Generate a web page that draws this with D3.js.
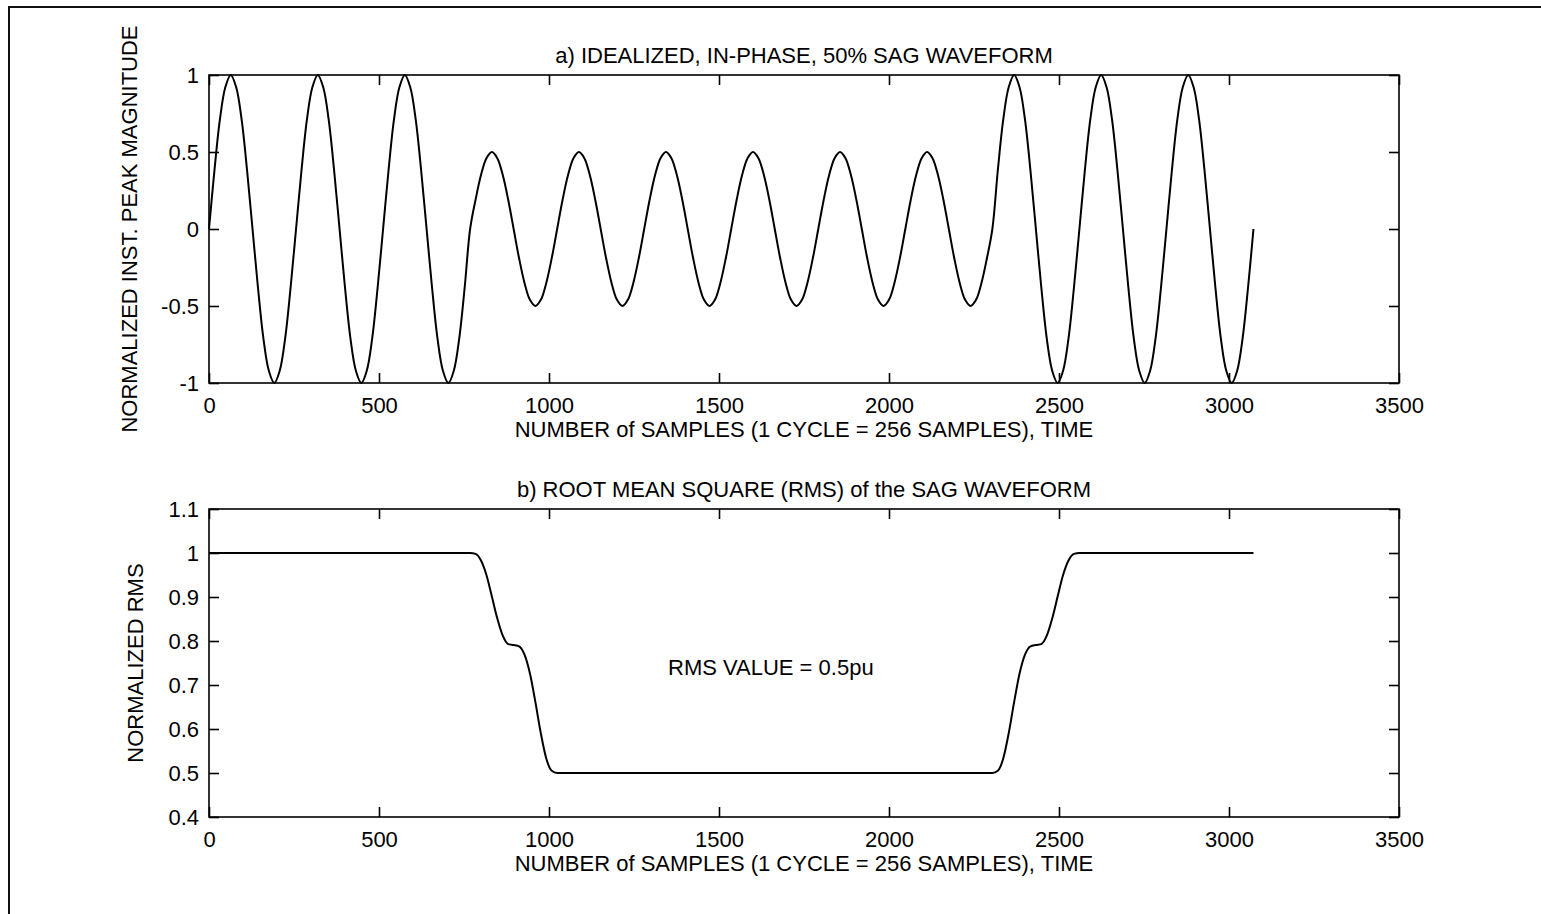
<!DOCTYPE html>
<html>
<head>
<meta charset="utf-8">
<script src="https://cdn.jsdelivr.net/npm/d3@7"></script>
<style>
  body { margin: 0; background: #fff; }
  text { font-family: "Liberation Sans", Arial, sans-serif; font-size: 22px; fill: #000; }
</style>
</head>
<body>
<svg></svg>
<script>
// tick values
var xTicks = [0, 500, 1000, 1500, 2000, 2500, 3000, 3500];
var waveTicks = [-1, -0.5, 0, 0.5, 1];
var rmsTicks = [0.4, 0.5, 0.6, 0.7, 0.8, 0.9, 1, 1.1];

// waveform read every 16 samples (1 cycle = 256 samples)
var waveStep = 16;
var waveValues = [
  0, 0.38, 0.71, 0.92, 1, 0.92, 0.71, 0.38, 0, -0.38, -0.71, -0.92, -1, -0.92, -0.71, -0.38,
  0, 0.38, 0.71, 0.92, 1, 0.92, 0.71, 0.38, 0, -0.38, -0.71, -0.92, -1, -0.92, -0.71, -0.38,
  0, 0.38, 0.71, 0.92, 1, 0.92, 0.71, 0.38, 0, -0.38, -0.71, -0.92, -1, -0.92, -0.71, -0.38,
  0, 0.19, 0.35, 0.46, 0.5, 0.46, 0.35, 0.19, 0, -0.19, -0.35, -0.46, -0.5, -0.46, -0.35, -0.19,
  0, 0.19, 0.35, 0.46, 0.5, 0.46, 0.35, 0.19, 0, -0.19, -0.35, -0.46, -0.5, -0.46, -0.35, -0.19,
  0, 0.19, 0.35, 0.46, 0.5, 0.46, 0.35, 0.19, 0, -0.19, -0.35, -0.46, -0.5, -0.46, -0.35, -0.19,
  0, 0.19, 0.35, 0.46, 0.5, 0.46, 0.35, 0.19, 0, -0.19, -0.35, -0.46, -0.5, -0.46, -0.35, -0.19,
  0, 0.19, 0.35, 0.46, 0.5, 0.46, 0.35, 0.19, 0, -0.19, -0.35, -0.46, -0.5, -0.46, -0.35, -0.19,
  0, 0.19, 0.35, 0.46, 0.5, 0.46, 0.35, 0.19, 0, -0.19, -0.35, -0.46, -0.5, -0.46, -0.35, -0.19,
  0, 0.38, 0.71, 0.92, 1, 0.92, 0.71, 0.38, 0, -0.38, -0.71, -0.92, -1, -0.92, -0.71, -0.38,
  0, 0.38, 0.71, 0.92, 1, 0.92, 0.71, 0.38, 0, -0.38, -0.71, -0.92, -1, -0.92, -0.71, -0.38,
  0, 0.38, 0.71, 0.92, 1, 0.92, 0.71, 0.38, 0, -0.38, -0.71, -0.92, -1, -0.92, -0.71, -0.38,
  0
];

// rms curve
var rmsSamples = [0, 768, 784, 800, 816, 832, 848, 864, 880, 896, 912, 928, 944, 960, 976, 992, 1008, 1024,
  2304, 2320, 2336, 2352, 2368, 2384, 2400, 2416, 2432, 2448, 2464, 2480, 2496, 2512, 2528, 2544, 2560, 3072];
var rmsValues = [1, 1, 0.998, 0.983, 0.95, 0.901, 0.851, 0.812, 0.793, 0.791, 0.788, 0.769, 0.726, 0.661, 0.59, 0.533, 0.505, 0.5,
  0.5, 0.505, 0.533, 0.59, 0.661, 0.726, 0.769, 0.788, 0.791, 0.793, 0.812, 0.851, 0.901, 0.95, 0.983, 0.998, 1, 1];

var W = 1541, H = 914;
var left = 209, width = 1190, plotH = 308;
var tick = 10;

var svg = d3.select("svg").attr("width", W).attr("height", H);

// figure frame
svg.append("path")
    .attr("d", "M9," + H + "V7H" + W)
    .attr("fill", "none")
    .attr("stroke", "#111")
    .attr("stroke-width", 2);

var x = d3.scaleLinear().domain([0, 3500]).range([0, width]);

function panel(top, y, yTicks, title, ylabel, ylabelX) {
  var g = svg.append("g").attr("transform", "translate(" + left + "," + top + ")");

  g.append("g")
      .attr("transform", "translate(0," + plotH + ")")
      .call(d3.axisBottom(x).tickValues(xTicks).tickSizeInner(-tick).tickSizeOuter(0).tickPadding(14)
        .tickFormat(function(d) { return String(d); }));
  g.append("g")
      .call(d3.axisTop(x).tickValues(xTicks).tickSizeInner(-tick).tickSizeOuter(0).tickFormat(""));
  g.append("g")
      .call(d3.axisLeft(y).tickValues(yTicks).tickSizeInner(-tick).tickSizeOuter(0).tickPadding(10)
        .tickFormat(function(d) { return String(d); }));
  g.append("g")
      .attr("transform", "translate(" + width + ",0)")
      .call(d3.axisRight(y).tickValues(yTicks).tickSizeInner(-tick).tickSizeOuter(0).tickFormat(""));

  g.selectAll(".domain").remove();
  g.selectAll(".tick line").attr("stroke", "#000").attr("stroke-width", 1.6);
  g.selectAll(".tick text").style("font-size", "22px").attr("fill", "#000");

  g.append("rect")
      .attr("width", width)
      .attr("height", plotH)
      .attr("fill", "none")
      .attr("stroke", "#000")
      .attr("stroke-width", 1.6);

  g.append("text")
      .attr("x", width / 2)
      .attr("y", -12)
      .attr("text-anchor", "middle")
      .text(title);
  g.append("text")
      .attr("x", width / 2)
      .attr("y", plotH + 54)
      .attr("text-anchor", "middle")
      .text("NUMBER of SAMPLES (1 CYCLE = 256 SAMPLES), TIME");
  g.append("text")
      .attr("transform", "translate(" + (ylabelX - left) + "," + (plotH / 2) + ")rotate(-90)")
      .attr("text-anchor", "middle")
      .attr("dominant-baseline", "central")
      .text(ylabel);
  return g;
}

// a) waveform
var yWave = d3.scaleLinear().domain([-1, 1]).range([plotH, 0]);
var g1 = panel(75, yWave, waveTicks, "a) IDEALIZED, IN-PHASE, 50% SAG WAVEFORM",
  "NORMALIZED INST. PEAK MAGNITUDE", 129);
g1.append("path")
    .datum(waveValues)
    .attr("fill", "none")
    .attr("stroke", "#000")
    .attr("stroke-width", 2)
    .attr("d", d3.line()
      .x(function(d, i) { return x(i * waveStep); })
      .y(function(d) { return yWave(d); })
      .curve(d3.curveCatmullRom));

// b) rms
var yRms = d3.scaleLinear().domain([0.4, 1.1]).range([plotH, 0]);
var g2 = panel(509, yRms, rmsTicks, "b) ROOT MEAN SQUARE (RMS) of the SAG WAVEFORM",
  "NORMALIZED RMS", 135);
g2.append("path")
    .datum(rmsSamples)
    .attr("fill", "none")
    .attr("stroke", "#000")
    .attr("stroke-width", 2)
    .attr("d", d3.line()
      .x(function(d) { return x(d); })
      .y(function(d, i) { return yRms(rmsValues[i]); })
      .curve(d3.curveMonotoneX));

g2.append("text")
    .attr("x", x(1350))
    .attr("y", yRms(0.74))
    .attr("dominant-baseline", "central")
    .text("RMS VALUE = 0.5pu");
</script>
</body>
</html>
